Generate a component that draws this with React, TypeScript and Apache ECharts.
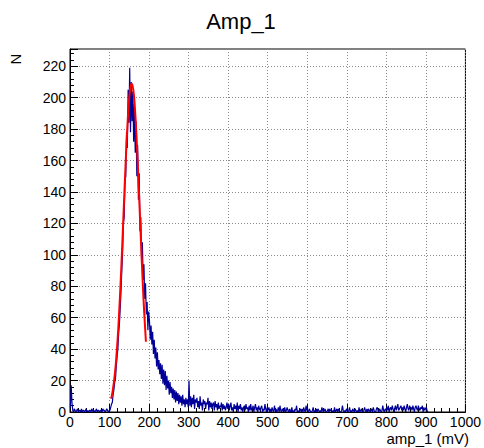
import React, { useEffect, useRef } from "react";
import * as echarts from "echarts";

// Histogram of amp_1 (mV), bin width 2 mV, starting at 0 mV
const binWidth = 2;
const counts: number[] = [
  // 0-100 mV
  3, 17, 6, 1, 0, 2, 1, 0, 1, 2,
  0, 1, 1, 0, 2, 0, 1, 1, 0, 1,
  2, 0, 1, 0, 1, 1, 0, 2, 1, 0,
  1, 0, 1, 2, 0, 1, 1, 0, 1, 1,
  0, 2, 1, 1, 0, 1, 2, 1, 0, 1,
  // 100-200 mV
  1, 3, 5, 6, 11, 14, 19, 21, 29, 35,
  40, 50, 56, 66, 77, 90, 101, 120, 124, 147,
  150, 178, 168, 205, 184, 219, 178, 210, 185, 204,
  172, 196, 165, 185, 150, 170, 135, 152, 115, 124,
  98, 108, 84, 94, 72, 82, 62, 70, 52, 64,
  // 200-300 mV
  58, 46, 55, 43, 51, 37, 46, 34, 41, 29,
  38, 27, 33, 24, 31, 21, 30, 18, 27, 17,
  26, 14, 23, 15, 20, 11, 19, 12, 16, 9,
  15, 8, 14, 6, 13, 7, 12, 5, 11, 6,
  10, 4, 11, 5, 8, 3, 9, 5, 8, 3,
  // 300-400 mV
  20, 4, 10, 3, 9, 5, 11, 2, 8, 6,
  9, 3, 7, 2, 10, 4, 6, 1, 8, 5,
  7, 2, 6, 5, 9, 1, 7, 3, 6, 2,
  5, 6, 1, 7, 3, 5, 1, 6, 2, 4,
  3, 6, 1, 5, 2, 4, 1, 3, 6, 2,
  // 400-500 mV
  5, 1, 4, 6, 1, 3, 0, 5, 2, 4,
  1, 6, 0, 4, 2, 5, 1, 3, 0, 3,
  4, 1, 5, 2, 3, 0, 4, 1, 5, 1,
  2, 4, 0, 3, 5, 1, 3, 0, 4, 2,
  1, 3, 4, 0, 2, 1, 5, 2, 0, 3,
  // 500-600 mV
  1, 3, 0, 2, 0, 3, 1, 0, 4, 1,
  2, 0, 1, 3, 0, 4, 1, 0, 2, 1,
  0, 3, 0, 1, 3, 1, 0, 2, 0, 1,
  3, 0, 1, 0, 2, 1, 4, 0, 1, 0,
  1, 2, 0, 2, 0, 3, 1, 0, 4, 1,
  // 600-700 mV
  1, 0, 2, 1, 0, 0, 1, 3, 0, 1,
  0, 2, 0, 2, 1, 0, 1, 0, 3, 1,
  0, 1, 2, 0, 0, 1, 2, 0, 2, 1,
  1, 0, 1, 0, 3, 0, 1, 2, 0, 2,
  1, 0, 0, 1, 4, 1, 0, 1, 0, 2,
  // 700-800 mV
  1, 0, 1, 3, 0, 1, 0, 2, 1, 0,
  2, 1, 0, 1, 0, 3, 0, 1, 2, 0,
  0, 1, 3, 1, 0, 2, 0, 2, 1, 0,
  1, 2, 0, 3, 1, 0, 0, 2, 3, 1,
  0, 2, 1, 0, 1, 4, 1, 0, 2, 1,
  // 800-906 mV
  3, 1, 4, 0, 2, 3, 1, 4, 2, 0,
  2, 4, 1, 3, 5, 1, 2, 3, 4, 1,
  3, 1, 4, 2, 0, 3, 5, 2, 1, 4,
  2, 3, 1, 4, 2, 0, 3, 4, 2, 1,
  4, 2, 1, 3, 2, 4, 0, 3, 1, 2,
  3, 1, 0,
];

// Gaussian fit curve
const fitX: number[] = [104, 108, 112, 116, 120, 124, 128, 132, 136, 140, 144, 148, 152, 156, 160, 164, 168, 172, 176, 180, 184, 188, 192];
const fitY: number[] = [8.4, 13.5, 20.9, 31.1, 44.7, 61.8, 82.2, 105.3, 129.9, 154.1, 176.1, 193.7, 205.1, 209, 205.1, 193.7, 176.1, 154.1, 129.9, 105.3, 82.2, 61.8, 44.7];

const titleText = "Amp_1";
const xTitle = "amp_1 (mV)";
const yTitle = "N";
const xMin = 0, xMax = 1000, xStep = 100;
const yMin = 0, yMax = 231, yStep = 20;

const FONT = "Liberation Sans";

export default function App() {
  const ref = useRef<HTMLDivElement>(null);
  useEffect(() => {
    if (!ref.current) return;
    const chart = echarts.init(ref.current, null, { renderer: "svg" });
    const histData = counts.map((c, i) => [i * binWidth + binWidth / 2, c]);
    const fitData = fitX.map((x, i) => [x, fitY[i]]);
    const gridLine = { show: true, lineStyle: { color: "#8a8a8a", type: [1, 2] as any, width: 1 } };
    chart.setOption({
      animation: false,
      backgroundColor: "#fff",
      grid: { left: 70, top: 49, width: 399, height: 363, show: true, borderColor: "#000", borderWidth: 1, backgroundColor: "transparent" },
      xAxis: {
        type: "value",
        min: xMin,
        max: xMax,
        interval: xStep,
        axisLine: { show: true, onZero: false, lineStyle: { color: "#000", width: 1 } },
        axisTick: { show: true, inside: true, length: 8, lineStyle: { color: "#000" } },
        minorTick: { show: true, splitNumber: 5, length: 4, lineStyle: { color: "#000" } },
        axisLabel: { margin: 3, fontSize: 14, lineHeight: 14, fontFamily: FONT, color: "#000", formatter: (v: number) => String(v) },
        splitLine: gridLine,
      },
      yAxis: {
        type: "value",
        min: yMin,
        max: yMax,
        interval: yStep,
        axisLine: { show: true, onZero: false, lineStyle: { color: "#000", width: 1 } },
        axisTick: { show: true, inside: true, length: 8, lineStyle: { color: "#000" } },
        minorTick: { show: true, splitNumber: 5, length: 4, lineStyle: { color: "#000" } },
        axisLabel: {
          margin: 4,
          fontSize: 14,
          fontFamily: FONT,
          color: "#000",
          showMaxLabel: false,
          formatter: (v: number) => (v % yStep === 0 ? String(v) : ""),
        },
        splitLine: gridLine,
      },
      series: [
        {
          type: "line",
          data: histData,
          symbol: "none",
          lineStyle: { color: "#000099", width: 1.2 },
          z: 2,
        },
        {
          type: "line",
          data: fitData,
          smooth: true,
          symbol: "none",
          lineStyle: { color: "#ff0000", width: 2 },
          z: 3,
        },
      ],
      graphic: [
        {
          type: "text",
          x: 241,
          y: 21,
          style: { text: titleText, font: `22px "${FONT}"`, fill: "#000", textAlign: "center", textVerticalAlign: "middle" },
        },
        {
          type: "text",
          x: 469,
          y: 438,
          style: { text: xTitle, font: `15px "${FONT}"`, fill: "#000", textAlign: "right", textVerticalAlign: "middle" },
        },
        {
          type: "text",
          x: 15,
          y: 59,
          rotation: Math.PI / 2,
          style: { text: yTitle, font: `15px "${FONT}"`, fill: "#000", textAlign: "center", textVerticalAlign: "middle" },
        },
      ],
    });
    return () => chart.dispose();
  }, []);
  return <div ref={ref} style={{ position: "fixed", left: 0, top: 0, width: 484, height: 448 }} />;
}
